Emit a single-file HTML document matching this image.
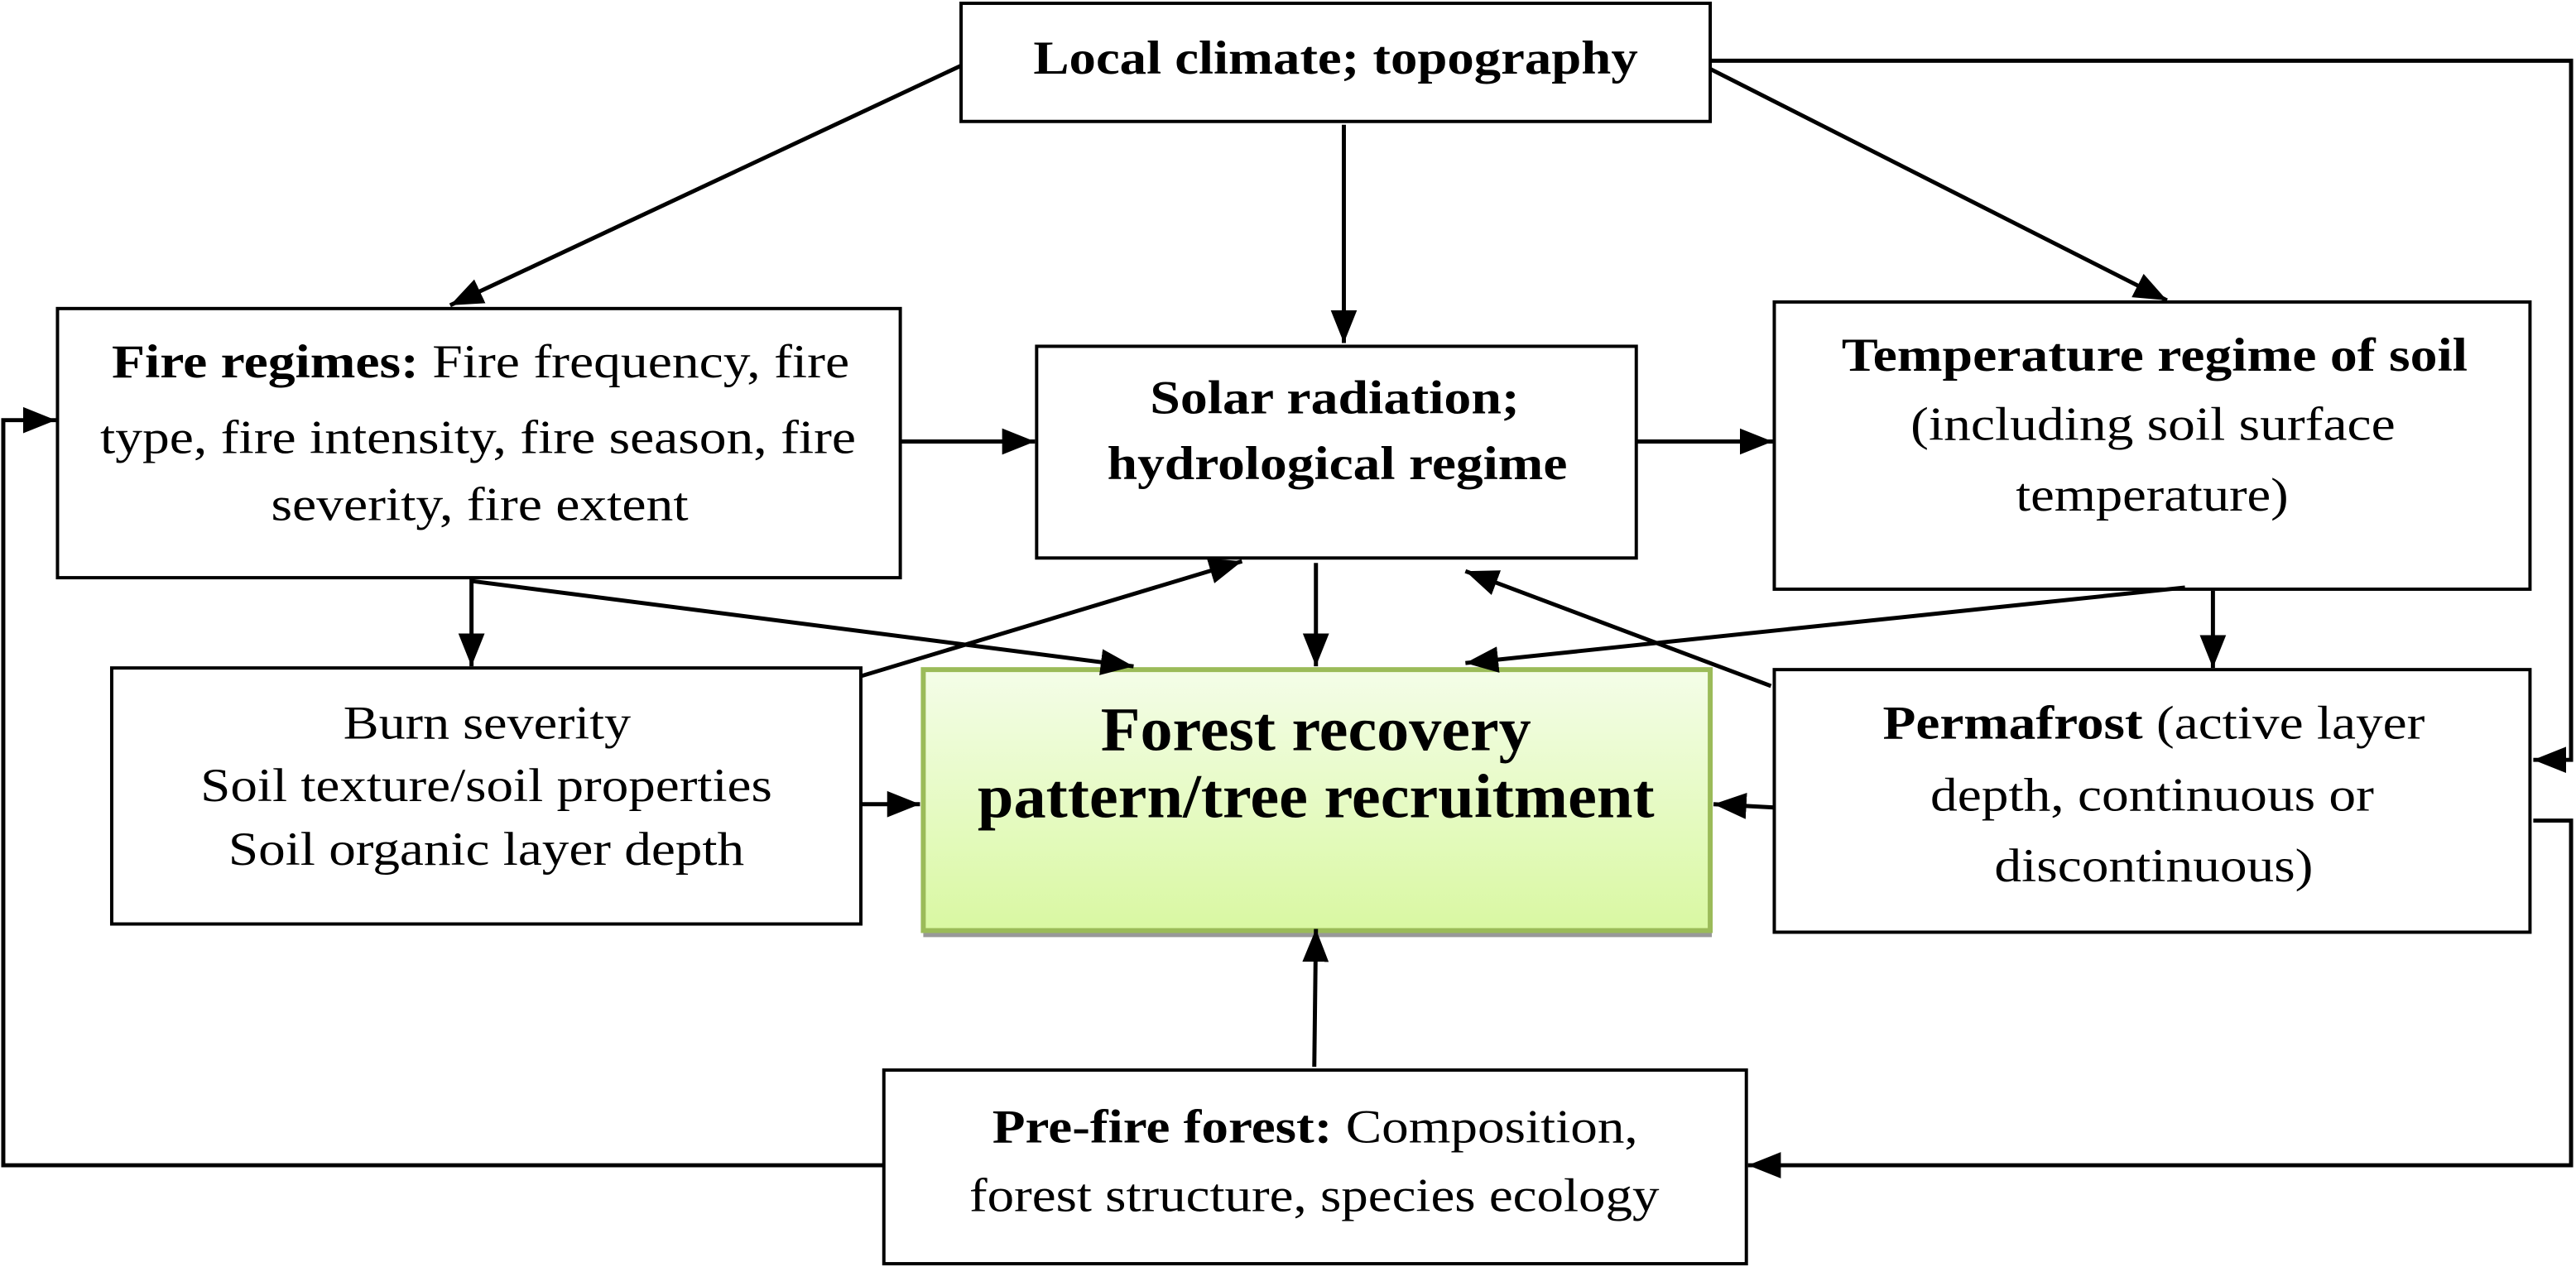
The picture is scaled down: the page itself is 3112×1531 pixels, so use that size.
<!DOCTYPE html>
<html><head><meta charset="utf-8"><style>html,body{margin:0;padding:0;background:#fff}svg{display:block}</style></head>
<body>
<svg width="3112" height="1531" viewBox="0 0 1568 772" preserveAspectRatio="none" xmlns="http://www.w3.org/2000/svg" font-family="Liberation Serif, serif">
<defs>
<marker id="a" viewBox="0 0 10 10" refX="10" refY="5" markerWidth="8" markerHeight="8" markerUnits="userSpaceOnUse" orient="auto"><path d="M0,0 L10,5 L0,10 z" fill="#000"/></marker>
<marker id="b" viewBox="0 0 10 10" refX="10" refY="5" markerWidth="20" markerHeight="20" markerUnits="userSpaceOnUse" orient="auto"><path d="M0,1 L10,5 L0,9 z" fill="#000"/></marker>
<linearGradient id="g" x1="0" y1="0" x2="0" y2="1"><stop offset="0" stop-color="#f4fde8"/><stop offset="1" stop-color="#d9f8a2"/></linearGradient>
</defs>
<g fill="#fff" stroke="#000" stroke-width="2">
<rect x="585" y="2" width="456" height="72"/>
<rect x="35" y="188" width="513" height="164"/>
<rect x="631" y="211" width="365" height="129"/>
<rect x="1080" y="184" width="460" height="175"/>
<rect x="68" y="407" width="456" height="156"/>
<rect x="1080" y="408" width="460" height="160"/>
<rect x="538" y="652" width="525" height="118"/>
</g>
<rect x="562" y="567" width="480" height="4" fill="#999"/>
<rect x="562" y="408" width="479" height="159" fill="url(#g)" stroke="#9bbb59" stroke-width="3"/>
<g stroke="#000" stroke-width="2.5" fill="none" marker-end="url(#b)">
<line x1="585" y1="40" x2="274" y2="186"/>
<line x1="818" y1="76" x2="818" y2="209"/>
<line x1="1041" y1="42" x2="1319" y2="183"/>
<polyline points="1041,37 1565,37 1565,463 1542,463"/>
<line x1="548" y1="269" x2="630" y2="269"/>
<line x1="996" y1="269" x2="1079" y2="269"/>
<line x1="287" y1="352" x2="287" y2="406"/>
<line x1="287" y1="354" x2="690" y2="406"/>
<line x1="524" y1="412" x2="756" y2="342"/>
<line x1="801" y1="343" x2="801" y2="406"/>
<line x1="1078" y1="418" x2="892" y2="348"/>
<line x1="1330" y1="358" x2="892" y2="404"/>
<line x1="1347" y1="360" x2="1347" y2="407"/>
<line x1="524" y1="490" x2="560" y2="490"/>
<line x1="1080" y1="492" x2="1043" y2="490"/>
<line x1="800" y1="650" x2="801" y2="566"/>
<polyline points="538,710 2,710 2,256 34,256"/>
<polyline points="1542,500 1565,500 1565,710 1064,710"/>
</g>
<g font-size="29" fill="#000" lengthAdjust="spacingAndGlyphs">
<text x="629" y="45" textLength="368" lengthAdjust="spacingAndGlyphs" font-weight="bold">Local climate; topography</text>
<text x="68" y="230" textLength="449" lengthAdjust="spacingAndGlyphs"><tspan font-weight="bold">Fire regimes:</tspan> Fire frequency, fire</text>
<text x="61" y="276" textLength="460" lengthAdjust="spacingAndGlyphs">type, fire intensity, fire season, fire</text>
<text x="165" y="317" textLength="254" lengthAdjust="spacingAndGlyphs">severity, fire extent</text>
<text x="700" y="252" textLength="225" lengthAdjust="spacingAndGlyphs" font-weight="bold">Solar radiation;</text>
<text x="674" y="292" textLength="280" lengthAdjust="spacingAndGlyphs" font-weight="bold">hydrological regime</text>
<text x="1121" y="226" textLength="381" lengthAdjust="spacingAndGlyphs" font-weight="bold">Temperature regime of soil</text>
<text x="1163" y="268" textLength="295" lengthAdjust="spacingAndGlyphs">(including soil surface</text>
<text x="1227" y="311" textLength="166" lengthAdjust="spacingAndGlyphs">temperature)</text>
<text x="209" y="450" textLength="175" lengthAdjust="spacingAndGlyphs">Burn severity</text>
<text x="122" y="488" textLength="348" lengthAdjust="spacingAndGlyphs">Soil texture/soil properties</text>
<text x="139" y="527" textLength="314" lengthAdjust="spacingAndGlyphs">Soil organic layer depth</text>
<text x="670" y="457" textLength="262" lengthAdjust="spacingAndGlyphs" font-weight="bold" font-size="38">Forest recovery</text>
<text x="595" y="498" textLength="412" lengthAdjust="spacingAndGlyphs" font-weight="bold" font-size="38">pattern/tree recruitment</text>
<text x="1146" y="450" textLength="330" lengthAdjust="spacingAndGlyphs"><tspan font-weight="bold">Permafrost</tspan> (active layer</text>
<text x="1175" y="494" textLength="270" lengthAdjust="spacingAndGlyphs">depth, continuous or</text>
<text x="1214" y="537" textLength="194" lengthAdjust="spacingAndGlyphs">discontinuous)</text>
<text x="604" y="696" textLength="393" lengthAdjust="spacingAndGlyphs"><tspan font-weight="bold">Pre-fire forest:</tspan> Composition,</text>
<text x="590" y="738" textLength="420" lengthAdjust="spacingAndGlyphs">forest structure, species ecology</text>
</g>
</svg>
</body></html>
